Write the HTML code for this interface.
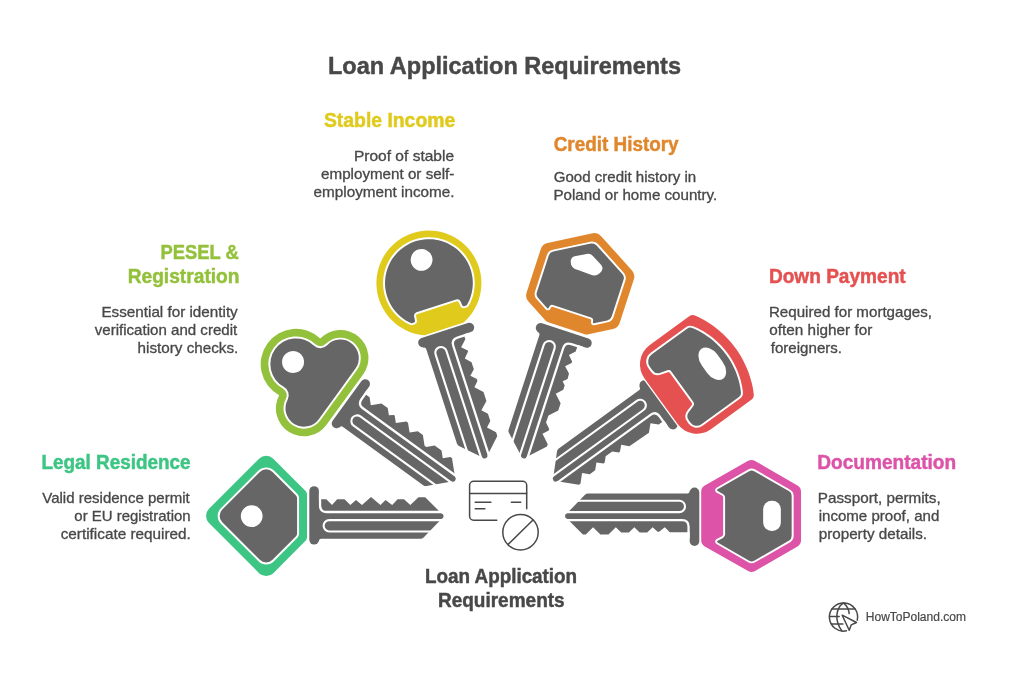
<!DOCTYPE html>
<html><head><meta charset="utf-8"><title>Loan Application Requirements</title>
<style>
html,body{margin:0;padding:0;background:#fff;}
body{width:1033px;height:678px;overflow:hidden;font-family:"Liberation Sans",sans-serif;}
svg{display:block;will-change:transform;}
svg text{font-family:"Liberation Sans",sans-serif;}
</style></head><body>
<svg width="1033" height="678" viewBox="0 0 1033 678">
<rect width="1033" height="678" fill="#ffffff"/>
<g transform="rotate(0 504.3 516.1)"><path d="M317,499.2 L326.3,499.2 L332,505 L337.2,499.2 L344.5,499.2 L350.3,505 L356,500 L362,505 L371,497 L380.5,505 L385.5,500 L392.2,505 L397.6,499.2 L404,499.2 L410.3,505 L418.5,497.2 L425.2,497.2 L441.2,513.2 Q443.6,513.6 443.6,516.1 Q443.6,518.6 441.5,519 L423.6,537.5 Q422.4,538.7 420.5,538.7 L321.4,538.7 Q318.9,538.7 318.9,541.4 L317,541.4 Z" fill="#666666"/><rect x="309.3" y="486.2" width="9.6" height="58.4" rx="4.8" fill="#666666"/><path d="M320.05,494 V505.5 Q320.05,512 326.5,512 H446" fill="none" stroke="#fff" stroke-width="2.3"/><path d="M446,520.1 H329.3 A5.7,5.7 0 0 0 329.3,531.5 H436" fill="none" stroke="#fff" stroke-width="2.1"/><path d="M208.97,522.97 A10,10 0 0 1 208.97,508.83 L259.13,458.67 A10,10 0 0 1 273.27,458.67 L305.54,490.94 A5,5 0 0 1 307,494.47 L307,537.33 A5,5 0 0 1 305.54,540.86 L273.27,573.13 A10,10 0 0 1 259.13,573.13 Z" fill="#3cc583"/><path d="M222.26,522.26 A9,9 0 0 1 222.26,509.54 L259.84,471.96 A9,9 0 0 1 272.56,471.96 L295.78,495.18 A4.5,4.5 0 0 1 297.1,498.36 L297.1,533.44 A4.5,4.5 0 0 1 295.78,536.62 L272.56,559.84 A9,9 0 0 1 259.84,559.84 Z" fill="#666666" stroke="#fff" stroke-width="3.9" stroke-linejoin="round" paint-order="stroke"/><circle cx="251.7" cy="516.1" r="10.9" fill="#fff"/></g>
<g transform="rotate(36 504.3 516.1)"><path d="M317,499.2 L325.5,499.2 L331.1,504.8 L338.7,497.2 L346.5,497.2 L351.7,502.4 L355.5,499.2 L356.5,499.2 L361.9,504.6 L369.5,497.1 L371.5,497.1 L378.6,504.2 L384.5,498.4 L390.8,498.4 L398.4,506 L400.5,506 L406.5,500 L415,500 L420.5,505.5 L426,500 L428,500 L441.2,513.2 Q443.6,513.6 443.6,516.1 Q443.6,518.6 441.5,519 L423.6,537.5 Q422.4,538.7 420.5,538.7 L321.4,538.7 Q318.9,538.7 318.9,541.4 L317,541.4 Z" fill="#666666"/><rect x="309.3" y="486.2" width="9.6" height="58.4" rx="4.8" fill="#666666"/><path d="M320.05,494 V505.5 Q320.05,512 326.5,512 H446" fill="none" stroke="#fff" stroke-width="2.3"/><path d="M446,520.1 H329.3 A5.7,5.7 0 0 0 329.3,531.5 H436" fill="none" stroke="#fff" stroke-width="2.1"/><path d="M306.8,484.5 A28,28 0 0 0 251.07,480.6 A35.3,35.3 0 1 0 251.07,550.6 A28,28 0 0 0 306.8,546.7 Z" fill="#93c13b"/><path d="M297.2,484.5 A18.4,18.4 0 0 0 260.58,481.94 A9.6,9.6 0 0 1 249.83,490.12 A25.7,25.7 0 1 0 249.83,541.08 A9.6,9.6 0 0 1 260.58,549.26 A18.4,18.4 0 0 0 297.2,546.7 Z" fill="#666666" stroke="#fff" stroke-width="3.9" stroke-linejoin="round" paint-order="stroke"/><circle cx="242.8" cy="515.6" r="11" fill="#fff"/></g>
<g transform="rotate(72 504.3 516.1)"><path d="M317,498.5 L324,498.5 L330.4,505 L335.5,499.7 L336.5,499.7 L342.3,505 L347.8,499.7 L355.3,499.7 L360.3,505 L365.5,499.9 L367.5,499.9 L372.5,504.7 L379.8,497.5 L389.2,497.5 L396.6,505.2 L401.8,500 L409.5,500 L414.8,505.2 L422,498 L426,498 L441.2,513.2 Q443.6,513.6 443.6,516.1 Q443.6,518.6 441.5,519 L423.6,537.5 Q422.4,538.7 420.5,538.7 L321.4,538.7 Q318.9,538.7 318.9,541.4 L317,541.4 Z" fill="#666666"/><rect x="309.3" y="486.2" width="9.6" height="58.4" rx="4.8" fill="#666666"/><path d="M320.05,494 V505.5 Q320.05,512 326.5,512 H446" fill="none" stroke="#fff" stroke-width="2.3"/><path d="M446,520.1 H329.3 A5.7,5.7 0 0 0 329.3,531.5 H436" fill="none" stroke="#fff" stroke-width="2.1"/><path d="M307.6,535.93 A3,3 0 0 1 307.31,537.22 L305.88,540.21 L303.9,543.66 L301.65,546.96 L299.17,550.07 L296.45,552.99 L293.52,555.7 L290.4,558.17 L287.09,560.4 L283.63,562.37 L280.03,564.08 L276.31,565.5 L272.49,566.64 L268.59,567.49 L264.64,568.04 L260.66,568.28 L256.68,568.23 L252.71,567.87 L248.78,567.21 L244.91,566.26 L241.12,565.01 L237.44,563.49 L233.88,561.68 L230.48,559.61 L227.23,557.29 L224.18,554.73 L221.33,551.95 L218.69,548.95 L216.3,545.77 L214.15,542.41 L212.26,538.9 L210.64,535.26 L209.3,531.5 L208.26,527.66 L207.5,523.74 L207.05,519.78 L206.9,515.8 L207.05,511.82 L207.5,507.86 L208.26,503.94 L209.3,500.1 L210.64,496.34 L212.26,492.7 L214.15,489.19 L216.3,485.83 L218.69,482.65 L221.33,479.65 L224.18,476.87 L227.23,474.31 L230.48,471.99 L233.88,469.92 L237.44,468.11 L241.12,466.59 L244.91,465.34 L248.78,464.39 L252.71,463.73 L256.68,463.37 L260.66,463.32 L264.64,463.56 L268.59,464.11 L272.49,464.96 L276.31,466.1 L280.03,467.52 L283.63,469.23 L287.09,471.2 L290.4,473.43 L293.52,475.9 L296.45,478.61 L299.17,481.53 L301.65,484.64 L303.9,487.94 L305.88,491.39 L307.31,494.38 A3,3 0 0 1 307.6,495.67 Z" fill="#e0ca1c"/><path d="M292.3,544.23 A1.6,1.6 0 0 1 291.86,545.33 L290.28,547.01 L288.11,549.01 L285.82,550.86 L283.4,552.56 L280.88,554.08 L278.27,555.44 L275.56,556.62 L272.79,557.61 L269.95,558.41 L267.07,559.03 L264.15,559.44 L261.21,559.66 L258.26,559.69 L255.32,559.51 L252.39,559.14 L249.5,558.57 L246.65,557.81 L243.86,556.86 L241.14,555.72 L238.5,554.41 L235.96,552.92 L233.52,551.26 L231.2,549.44 L229,547.47 L226.95,545.36 L225.04,543.12 L223.28,540.75 L221.69,538.27 L220.26,535.69 L219.02,533.02 L217.95,530.27 L217.07,527.45 L216.39,524.59 L215.9,521.68 L215.6,518.75 L215.5,515.8 L215.6,512.85 L215.9,509.92 L216.39,507.01 L217.07,504.15 L217.95,501.33 L219.02,498.58 L220.26,495.91 L221.69,493.33 L223.28,490.85 L225.04,488.48 L226.95,486.24 L229,484.13 L231.2,482.16 L233.52,480.34 L235.96,478.68 L238.5,477.19 L241.14,475.88 L243.86,474.74 L246.65,473.79 L249.5,473.03 L252.39,472.46 L255.32,472.09 L258.26,471.91 L261.21,471.94 L264.15,472.16 L267.07,472.57 L269.95,473.19 L272.79,473.99 L275.56,474.98 L278.27,476.16 L280.88,477.52 L283.4,479.04 L285.82,480.74 L288.11,482.59 L290.28,484.59 L291.86,486.27 A1.6,1.6 0 0 1 292.3,487.37 L292.3,489.37 A1.6,1.6 0 0 1 290.88,490.96 L286.51,491.45 A3.5,3.5 0 0 0 283.4,494.93 L283.4,536.67 A3.5,3.5 0 0 0 286.51,540.15 L290.88,540.64 A1.6,1.6 0 0 1 292.3,542.23 Z" fill="#666666" stroke="#fff" stroke-width="3.9" stroke-linejoin="round" paint-order="stroke"/><circle cx="235.1" cy="515.6" r="10.9" fill="#fff"/></g>
<g transform="rotate(108 504.3 516.1)"><path d="M317,499 L325.8,499 L331.1,504.4 L336.3,499.4 L337.8,499.4 L343,504.6 L348.8,498.6 L354.3,498.3 L358,502.3 L361.5,499 L366,499 L372,505 L379.6,497.4 L387.2,497.4 L395,505.2 L402.5,505.3 L407.6,500.3 L409.2,500.3 L414.3,505.2 L422.5,497 L425,497 L441.2,513.2 Q443.6,513.6 443.6,516.1 Q443.6,518.6 441.5,519 L423.6,537.5 Q422.4,538.7 420.5,538.7 L321.4,538.7 Q318.9,538.7 318.9,541.4 L317,541.4 Z" fill="#666666"/><rect x="309.3" y="486.2" width="9.6" height="58.4" rx="4.8" fill="#666666"/><path d="M320.05,494 V505.5 Q320.05,512 326.5,512 H446" fill="none" stroke="#fff" stroke-width="2.3"/><path d="M446,520.1 H329.3 A5.7,5.7 0 0 0 329.3,531.5 H436" fill="none" stroke="#fff" stroke-width="2.1"/><path d="M208.1,519.5 A9,9 0 0 1 208.1,510.5 L231.15,470.57 A9,9 0 0 1 238.95,466.07 L285.05,466.07 A9,9 0 0 1 292.85,470.57 L305.92,493.21 A3.6,3.6 0 0 1 306.4,495.01 L306.4,534.99 A3.6,3.6 0 0 1 305.92,536.79 L292.85,559.43 A9,9 0 0 1 285.05,563.93 L238.95,563.93 A9,9 0 0 1 231.15,559.43 Z" fill="#e0872d"/><path d="M292.71,538.34 A0.8,0.8 0 0 1 293.24,539.52 L286.43,551.32 A6,6 0 0 1 281.24,554.32 L242.76,554.32 A6,6 0 0 1 237.57,551.32 L218.33,518 A6,6 0 0 1 218.33,512 L237.57,478.68 A6,6 0 0 1 242.76,475.68 L281.24,475.68 A6,6 0 0 1 286.43,478.68 L293.24,490.48 A0.8,0.8 0 0 1 292.71,491.66 L290.91,492.02 A3,3 0 0 0 288.5,494.96 L288.5,535.04 A3,3 0 0 0 290.91,537.98 Z" fill="#666666" stroke="#fff" stroke-width="3.9" stroke-linejoin="round" paint-order="stroke"/><path d="M229.6,512.2 L235.5,501.5 Q238,498 242,499.5 Q248.5,502 248,509 L247.5,522 Q248,529.5 242,531.5 Q238,533 235.5,529.5 L229.6,518.8 Q227.6,515.5 229.6,512.2 Z" fill="#fff"/></g>
<g transform="rotate(144 504.3 516.1)"><path d="M317,499.5 L325.5,499.5 L331.5,505.3 L338.3,498.5 L362,499.2 L367.8,505 L372.8,500.3 L374.2,500.3 L379,505 L387.1,505 L391.6,500.4 L393,500.4 L398.2,505.4 L403.8,499.8 L410.5,499.8 L416,505.3 L423.6,497.6 L425.6,497.6 L441.2,513.2 Q443.6,513.6 443.6,516.1 Q443.6,518.6 441.5,519 L423.6,537.5 Q422.4,538.7 420.5,538.7 L321.4,538.7 Q318.9,538.7 318.9,541.4 L317,541.4 Z" fill="#666666"/><rect x="309.3" y="486.2" width="9.6" height="58.4" rx="4.8" fill="#666666"/><path d="M320.05,494 V505.5 Q320.05,512 326.5,512 H446" fill="none" stroke="#fff" stroke-width="2.3"/><path d="M446,520.1 H329.3 A5.7,5.7 0 0 0 329.3,531.5 H436" fill="none" stroke="#fff" stroke-width="2.1"/><path d="M310,545 A24,24 0 0 1 286,569 L237.3,569 A6.32,6.32 0 0 1 231.82,565.83 L230,562.65 L228.09,558.84 L226.39,555.03 L224.87,551.21 L223.52,547.4 L222.35,543.59 L221.34,539.77 L220.49,535.96 L219.8,532.15 L219.25,528.33 L218.85,524.52 L218.61,520.71 L218.5,516.89 L218.55,513.08 L218.73,509.27 L219.07,505.45 L219.55,501.64 L220.18,497.83 L220.97,494.01 L221.91,490.2 L223.02,486.39 L224.29,482.57 L225.73,478.76 L227.36,474.95 L229.18,471.13 L230.86,468.07 A5.9,5.9 0 0 1 236.04,465 L286,465 A24,24 0 0 1 310,489 Z" fill="#e55050" stroke="#fff" stroke-width="2.6" paint-order="stroke"/><path d="M293.78,540.32 A7,7 0 0 1 298.8,547.04 L298.8,551.3 A9,9 0 0 1 289.8,560.3 L246.32,560.3 A5.52,5.52 0 0 1 241.61,557.65 L239.99,555 L238.33,551.85 L236.85,548.7 L235.52,545.56 L234.35,542.41 L233.33,539.27 L232.45,536.12 L231.7,532.97 L231.09,529.83 L230.6,526.68 L230.25,523.54 L230.02,520.39 L229.91,517.24 L229.93,514.1 L230.07,510.95 L230.33,507.81 L230.72,504.66 L231.24,501.51 L231.89,498.37 L232.67,495.22 L233.59,492.08 L234.66,488.93 L235.87,485.78 L237.23,482.64 L238.77,479.49 L240.17,477 A4.89,4.89 0 0 1 244.43,474.5 L290.85,474.5 A7.95,7.95 0 0 1 298.8,482.45 L298.8,485.16 A7,7 0 0 1 293.78,491.88 L286.71,493.96 A3.5,3.5 0 0 0 284.2,497.32 L284.2,534.88 A3.5,3.5 0 0 0 286.71,538.24 Z" fill="#666666" stroke="#fff" stroke-width="3.9" stroke-linejoin="round" paint-order="stroke"/><rect x="237" y="498.7" width="19" height="36.8" rx="9.5" ry="14" fill="#fff"/></g>
<g transform="rotate(180 504.3 516.1)"><path d="M317,500 L338.8,500 L343.8,505 L349.5,500.4 L351,500.4 L356,505 L361.4,499.6 L368.9,499.6 L374.3,505 L379.7,499.6 L387.4,499.6 L392.8,505 L400.1,497.7 L408.2,497.7 L415.5,505 L422.8,497.7 L425.7,497.7 L441.2,513.2 Q443.6,513.6 443.6,516.1 Q443.6,518.6 441.5,519 L423.6,537.5 Q422.4,538.7 420.5,538.7 L321.4,538.7 Q318.9,538.7 318.9,541.4 L317,541.4 Z" fill="#666666"/><rect x="309.3" y="486.2" width="9.6" height="58.4" rx="4.8" fill="#666666"/><path d="M320.05,494 V505.5 Q320.05,512 326.5,512 H446" fill="none" stroke="#fff" stroke-width="2.3"/><path d="M446,520.1 H329.3 A5.7,5.7 0 0 0 329.3,531.5 H436" fill="none" stroke="#fff" stroke-width="2.1"/><path d="M253.49,461.3 A7,7 0 0 1 260.43,461.27 L303.84,485.79 A7,7 0 0 1 307.4,491.89 L307.4,540.71 A7,7 0 0 1 303.84,546.81 L260.43,571.33 A7,7 0 0 1 253.49,571.3 L211.09,546.82 A7,7 0 0 1 207.59,540.76 L207.59,491.84 A7,7 0 0 1 211.09,485.78 Z" fill="#dd53a8"/><path d="M290.98,541.08 A1,1 0 0 1 291.02,542.83 L259.45,561.06 A5,5 0 0 1 254.45,561.06 L219.44,540.84 A5,5 0 0 1 216.94,536.51 L216.94,496.09 A5,5 0 0 1 219.44,491.76 L254.45,471.54 A5,5 0 0 1 259.45,471.54 L291.02,489.77 A1,1 0 0 1 290.98,491.52 L285.66,494.28 A4,4 0 0 0 283.5,497.83 L283.5,534.77 A4,4 0 0 0 285.66,538.32 Z" fill="#666666" stroke="#fff" stroke-width="3.9" stroke-linejoin="round" paint-order="stroke"/><rect x="227.75" y="501.3" width="17.7" height="30.2" rx="8.5" fill="#fff"/></g>
<g fill="none" stroke="#484848" stroke-width="1.5" stroke-linecap="round" stroke-linejoin="round"><path d="M496.8,520.2 H473.6 A4,4 0 0 1 469.6,516.2 V485.3 A4,4 0 0 1 473.6,481.3 H522.7 A4,4 0 0 1 526.7,485.3 V508.8"/><path d="M469.6,493.6 H526.7 M475.2,502.3 H490.9 M475.2,508.8 H484.9 M511.4,502.3 H520.7"/><circle cx="520.5" cy="532.2" r="17.7"/><path d="M508.1,544.4 L533.0,520.0"/></g><g fill="none" stroke="#484848" stroke-width="1.5" stroke-linecap="round" stroke-linejoin="round"><path d="M857.24,620.17 A14.1,14.1 0 1 0 846.43,630.79"/><path d="M831.8,608.9 H855.2 M829.5,616.6 H839.2 M831.5,623.9 H842.9"/><path d="M843.5,602.9 C836,608 834,620 841.9,631.0 M843.5,602.9 C847,606 849,610 849.2,613.6"/><path d="M842.2,615.2 L856.5,622.5 L851.2,624.9 L849.2,630.2 Z"/></g>
<text x="328.02" y="74.2" font-size="24.2" font-weight="bold" fill="#484848" stroke="#484848" stroke-width="0.45" textLength="352.96" lengthAdjust="spacingAndGlyphs">Loan Application Requirements</text>
<text x="323.96" y="127" font-size="19.3" font-weight="bold" fill="#e0ca1c" stroke="#e0ca1c" stroke-width="0.45" textLength="131.24" lengthAdjust="spacingAndGlyphs">Stable Income</text>
<text x="353.96" y="161.25" font-size="14.2" font-weight="normal" fill="#484848" stroke="#484848" stroke-width="0.3" textLength="100.12" lengthAdjust="spacingAndGlyphs">Proof of stable</text>
<text x="321.05" y="179.25" font-size="14.2" font-weight="normal" fill="#484848" stroke="#484848" stroke-width="0.3" textLength="133.25" lengthAdjust="spacingAndGlyphs">employment or self-</text>
<text x="313.55" y="197.25" font-size="14.2" font-weight="normal" fill="#484848" stroke="#484848" stroke-width="0.3" textLength="140.99" lengthAdjust="spacingAndGlyphs">employment income.</text>
<text x="553.67" y="150.75" font-size="19.3" font-weight="bold" fill="#e0872d" stroke="#e0872d" stroke-width="0.45" textLength="124.97" lengthAdjust="spacingAndGlyphs">Credit History</text>
<text x="553.67" y="182" font-size="14.2" font-weight="normal" fill="#484848" stroke="#484848" stroke-width="0.3" textLength="142.47" lengthAdjust="spacingAndGlyphs">Good credit history in</text>
<text x="553.46" y="200" font-size="14.2" font-weight="normal" fill="#484848" stroke="#484848" stroke-width="0.3" textLength="163.77" lengthAdjust="spacingAndGlyphs">Poland or home country.</text>
<text x="160.46" y="258.75" font-size="19.3" font-weight="bold" fill="#93c13b" stroke="#93c13b" stroke-width="0.45" textLength="78.18" lengthAdjust="spacingAndGlyphs">PESEL &amp;</text>
<text x="127.65" y="282.5" font-size="19.3" font-weight="bold" fill="#93c13b" stroke="#93c13b" stroke-width="0.45" textLength="111.89" lengthAdjust="spacingAndGlyphs">Registration</text>
<text x="101.46" y="317" font-size="14.2" font-weight="normal" fill="#484848" stroke="#484848" stroke-width="0.3" textLength="136.28" lengthAdjust="spacingAndGlyphs">Essential for identity</text>
<text x="94.76" y="335" font-size="14.2" font-weight="normal" fill="#484848" stroke="#484848" stroke-width="0.3" textLength="142.48" lengthAdjust="spacingAndGlyphs">verification and credit</text>
<text x="137.55" y="353" font-size="14.2" font-weight="normal" fill="#484848" stroke="#484848" stroke-width="0.3" textLength="100.8" lengthAdjust="spacingAndGlyphs">history checks.</text>
<text x="41.46" y="468.75" font-size="19.3" font-weight="bold" fill="#3cc583" stroke="#3cc583" stroke-width="0.45" textLength="149.18" lengthAdjust="spacingAndGlyphs">Legal Residence</text>
<text x="42.26" y="502.5" font-size="14.2" font-weight="normal" fill="#484848" stroke="#484848" stroke-width="0.3" textLength="147.48" lengthAdjust="spacingAndGlyphs">Valid residence permit</text>
<text x="74.36" y="520.5" font-size="14.2" font-weight="normal" fill="#484848" stroke="#484848" stroke-width="0.3" textLength="116.28" lengthAdjust="spacingAndGlyphs">or EU registration</text>
<text x="60.67" y="538.75" font-size="14.2" font-weight="normal" fill="#484848" stroke="#484848" stroke-width="0.3" textLength="130.18" lengthAdjust="spacingAndGlyphs">certificate required.</text>
<text x="768.96" y="282.5" font-size="19.3" font-weight="bold" fill="#e55050" stroke="#e55050" stroke-width="0.45" textLength="136.68" lengthAdjust="spacingAndGlyphs">Down Payment</text>
<text x="768.96" y="316.5" font-size="14.2" font-weight="normal" fill="#484848" stroke="#484848" stroke-width="0.3" textLength="163.08" lengthAdjust="spacingAndGlyphs">Required for mortgages,</text>
<text x="769.36" y="334.5" font-size="14.2" font-weight="normal" fill="#484848" stroke="#484848" stroke-width="0.3" textLength="102.88" lengthAdjust="spacingAndGlyphs">often higher for</text>
<text x="770.76" y="352.5" font-size="14.2" font-weight="normal" fill="#484848" stroke="#484848" stroke-width="0.3" textLength="71.28" lengthAdjust="spacingAndGlyphs">foreigners.</text>
<text x="817.27" y="468.75" font-size="19.3" font-weight="bold" fill="#dd53a8" stroke="#dd53a8" stroke-width="0.45" textLength="138.87" lengthAdjust="spacingAndGlyphs">Documentation</text>
<text x="817.77" y="502.5" font-size="14.2" font-weight="normal" fill="#484848" stroke="#484848" stroke-width="0.3" textLength="122.96" lengthAdjust="spacingAndGlyphs">Passport, permits,</text>
<text x="818.67" y="520.5" font-size="14.2" font-weight="normal" fill="#484848" stroke="#484848" stroke-width="0.3" textLength="120.66" lengthAdjust="spacingAndGlyphs">income proof, and</text>
<text x="818.67" y="538.75" font-size="14.2" font-weight="normal" fill="#484848" stroke="#484848" stroke-width="0.3" textLength="108.37" lengthAdjust="spacingAndGlyphs">property details.</text>
<text x="424.96" y="582.75" font-size="19.3" font-weight="bold" fill="#484848" stroke="#484848" stroke-width="0.45" textLength="152.18" lengthAdjust="spacingAndGlyphs">Loan Application</text>
<text x="437.96" y="606.5" font-size="19.3" font-weight="bold" fill="#484848" stroke="#484848" stroke-width="0.45" textLength="126.68" lengthAdjust="spacingAndGlyphs">Requirements</text>
<text x="865.8" y="621" font-size="12" font-weight="normal" fill="#484848" stroke="#484848" stroke-width="0.2" textLength="100.16" lengthAdjust="spacingAndGlyphs">HowToPoland.com</text>
</svg>
</body></html>
